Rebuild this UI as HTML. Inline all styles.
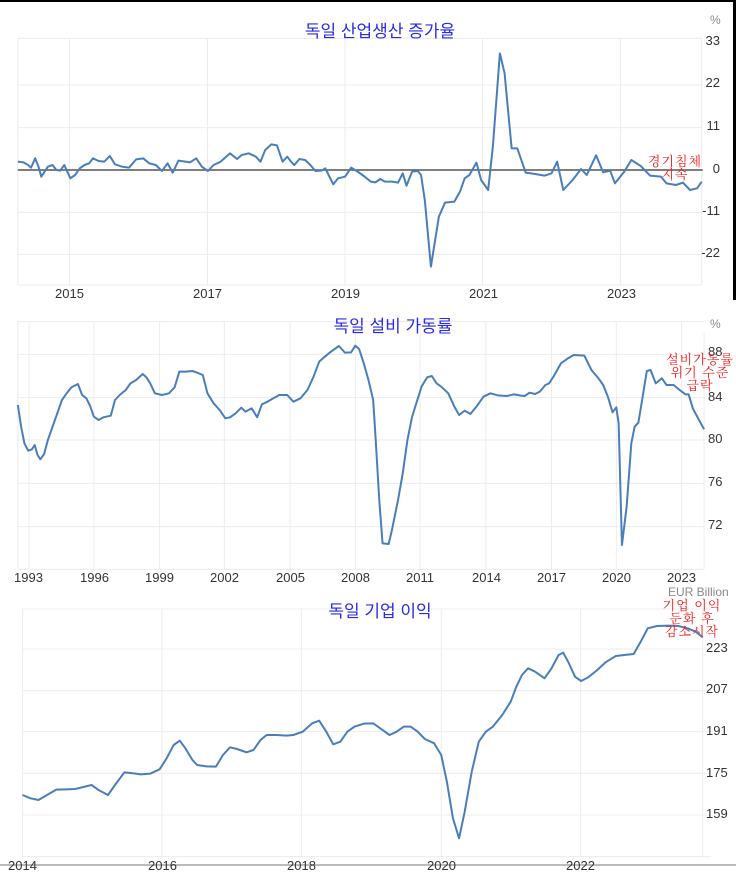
<!DOCTYPE html>
<html><head><meta charset="utf-8"><style>
body{margin:0;width:736px;height:874px;background:#fff;position:relative;overflow:hidden;font-family:"Liberation Sans",sans-serif}
svg{position:absolute;left:0}
.t{position:absolute;font-size:13px;color:#333;white-space:nowrap}
.r{text-align:right}
.ttl{position:absolute;font-family:"Liberation Sans","Noto Sans CJK KR",sans-serif;color:#2a2ae6;font-size:17px;white-space:nowrap;transform:translateX(-50%)}
.ann{position:absolute;font-family:"Liberation Sans","Noto Serif CJK SC","Noto Sans CJK KR",serif;color:#f02020;font-size:13px;letter-spacing:1px;line-height:13px;text-align:center;white-space:nowrap;transform:translateX(-50%)}
.g line{stroke:#ececec;stroke-width:1;vector-effect:non-scaling-stroke}
.d{fill:none;stroke:#4a7ebb;stroke-width:2;vector-effect:non-scaling-stroke;stroke-linejoin:round}
</style></head><body>
<div style="position:absolute;left:0;top:0;width:736px;height:2px;background:#000"></div>
<div style="position:absolute;left:733px;top:0;width:3px;height:300px;background:#000"></div>

<!-- Panel 1 -->
<svg style="top:0" width="736" height="300" viewBox="0 0 1568 900" preserveAspectRatio="none">
<g class="g">
<line x1="38" y1="115" x2="1495" y2="115"/><line x1="38" y1="255" x2="1495" y2="255"/><line x1="38" y1="383" x2="1495" y2="383"/><line x1="38" y1="637" x2="1495" y2="637"/><line x1="38" y1="763" x2="1495" y2="763"/><line x1="38" y1="855" x2="1495" y2="855"/>
<line x1="38" y1="115" x2="38" y2="855"/><line x1="148" y1="115" x2="148" y2="855"/><line x1="442" y1="115" x2="442" y2="855"/><line x1="735" y1="115" x2="735" y2="855"/><line x1="1028" y1="115" x2="1028" y2="855"/><line x1="1322" y1="115" x2="1322" y2="855"/><line x1="1495" y1="115" x2="1495" y2="855"/>
</g>
<line x1="38" y1="510" x2="1497" y2="510" stroke="#555" stroke-width="1.5" vector-effect="non-scaling-stroke"/>
<polyline class="d" points="38,485 50,487 60,495 66,503 75,475 82,500 88,530 95,515 102,500 112,495 120,510 128,512 137,495 145,520 150,535 160,525 170,505 180,495 190,490 198,475 210,483 222,485 234,468 245,493 260,500 275,503 290,478 305,475 318,490 332,495 345,513 357,490 368,518 380,482 395,485 405,487 418,475 430,500 443,513 455,495 470,485 490,460 505,477 515,465 530,460 545,470 555,485 565,450 578,433 590,436 602,485 612,470 620,485 627,495 638,477 650,480 660,493 672,513 685,512 693,505 700,525 710,553 720,535 735,530 748,503 760,513 775,528 790,545 800,547 810,537 820,545 835,545 848,548 858,520 866,557 878,515 890,513 897,525 905,600 918,800 935,650 948,608 968,605 980,575 990,535 1000,525 1015,488 1025,540 1040,570 1050,440 1065,160 1075,220 1090,445 1102,445 1120,518 1140,522 1160,527 1175,520 1187,485 1200,570 1220,540 1238,507 1250,525 1270,466 1285,517 1300,512 1310,550 1330,515 1345,480 1365,498 1385,527 1408,530 1420,550 1440,555 1455,548 1470,570 1485,565 1495,545"/>
</svg>
<div class="ttl" style="left:380px;top:17px">독일 산업생산 증가율</div>
<div class="t" style="left:710px;top:13px;color:#888;font-size:12px">%</div>
<div class="t r" style="left:690px;width:30px;top:33px">33</div>
<div class="t r" style="left:690px;width:30px;top:75px">22</div>
<div class="t r" style="left:690px;width:30px;top:118px">11</div>
<div class="t r" style="left:690px;width:30px;top:161px">0</div>
<div class="t r" style="left:690px;width:30px;top:203px">-11</div>
<div class="t r" style="left:690px;width:30px;top:245px">-22</div>
<div class="t" style="left:55px;top:286px">2015</div>
<div class="t" style="left:193px;top:286px">2017</div>
<div class="t" style="left:331px;top:286px">2019</div>
<div class="t" style="left:469px;top:286px">2021</div>
<div class="t" style="left:607px;top:286px">2023</div>
<div class="ann" style="left:675px;top:155px">경기침체<br>지속</div>

<!-- Panel 2 -->
<svg style="top:300px" width="736" height="290" viewBox="0 0 1568 870" preserveAspectRatio="none">
<g class="g">
<line x1="38" y1="65" x2="1500" y2="65"/><line x1="38" y1="163" x2="1500" y2="163"/><line x1="38" y1="293" x2="1500" y2="293"/><line x1="38" y1="420" x2="1500" y2="420"/><line x1="38" y1="550" x2="1500" y2="550"/><line x1="38" y1="680" x2="1500" y2="680"/><line x1="38" y1="808" x2="1500" y2="808"/>
<line x1="38" y1="65" x2="38" y2="808"/><line x1="62" y1="65" x2="62" y2="808"/><line x1="200" y1="65" x2="200" y2="808"/><line x1="340" y1="65" x2="340" y2="808"/><line x1="478" y1="65" x2="478" y2="808"/><line x1="618" y1="65" x2="618" y2="808"/><line x1="757" y1="65" x2="757" y2="808"/><line x1="895" y1="65" x2="895" y2="808"/><line x1="1035" y1="65" x2="1035" y2="808"/><line x1="1175" y1="65" x2="1175" y2="808"/><line x1="1313" y1="65" x2="1313" y2="808"/><line x1="1452" y1="65" x2="1452" y2="808"/><line x1="1500" y1="100" x2="1500" y2="808"/>
</g>
<polyline class="d" points="38,315 45,380 52,430 60,452 68,448 74,435 80,465 86,478 94,462 102,420 112,380 122,340 132,300 142,280 152,262 166,252 175,285 184,295 192,318 200,350 210,360 220,352 236,347 245,300 255,285 268,270 278,250 290,240 304,222 312,232 320,250 330,280 345,285 360,280 372,262 382,215 395,215 410,213 420,218 432,225 442,280 455,310 468,330 480,355 490,352 502,340 514,323 523,335 536,325 548,352 558,313 570,305 582,295 595,285 612,285 625,305 640,295 655,270 668,230 680,185 692,170 705,155 722,138 735,158 748,157 757,137 765,147 775,190 785,240 795,300 800,410 808,600 815,730 828,732 835,690 848,600 858,520 868,420 878,350 888,305 898,260 910,232 920,228 930,250 940,260 955,280 968,320 978,345 990,332 1002,342 1015,320 1030,290 1045,280 1060,286 1080,288 1095,283 1110,287 1118,288 1128,278 1140,282 1150,275 1162,255 1170,250 1180,228 1195,190 1210,175 1222,165 1245,167 1260,210 1275,235 1285,255 1295,290 1305,337 1313,322 1318,370 1325,735 1335,620 1345,430 1352,380 1360,368 1368,300 1378,213 1386,210 1397,250 1410,235 1420,255 1435,255 1448,270 1460,283 1467,283 1476,325 1488,357 1500,388"/>
</svg>
<div class="ttl" style="left:393px;top:312px">독일 설비 가동률</div>
<div class="t" style="left:710px;top:317px;color:#888;font-size:12px">%</div>
<div class="t" style="left:708px;top:344px">88</div>
<div class="t" style="left:708px;top:389px">84</div>
<div class="t" style="left:708px;top:431px">80</div>
<div class="t" style="left:708px;top:474px">76</div>
<div class="t" style="left:708px;top:517px">72</div>
<div class="t" style="left:14px;top:570px">1993</div>
<div class="t" style="left:80px;top:570px">1996</div>
<div class="t" style="left:145px;top:570px">1999</div>
<div class="t" style="left:210px;top:570px">2002</div>
<div class="t" style="left:276px;top:570px">2005</div>
<div class="t" style="left:341px;top:570px">2008</div>
<div class="t" style="left:406px;top:570px">2011</div>
<div class="t" style="left:472px;top:570px">2014</div>
<div class="t" style="left:537px;top:570px">2017</div>
<div class="t" style="left:602px;top:570px">2020</div>
<div class="t" style="left:667px;top:570px">2023</div>
<div class="ann" style="left:700px;top:353px">설비가동률<br>위기 수준<br>급락</div>

<!-- Panel 3 -->
<svg style="top:585px" width="736" height="289" viewBox="0 0 1568 867" preserveAspectRatio="none">
<g class="g">
<line x1="48" y1="72" x2="1515" y2="72"/><line x1="48" y1="192" x2="1515" y2="192"/><line x1="48" y1="317" x2="1515" y2="317"/><line x1="48" y1="440" x2="1515" y2="440"/><line x1="48" y1="565" x2="1515" y2="565"/><line x1="48" y1="690" x2="1515" y2="690"/><line x1="48" y1="815" x2="1515" y2="815"/>
<line x1="48" y1="72" x2="48" y2="815"/><line x1="345" y1="72" x2="345" y2="815"/><line x1="642" y1="72" x2="642" y2="815"/><line x1="940" y1="72" x2="940" y2="815"/><line x1="1237" y1="72" x2="1237" y2="815"/><line x1="1497" y1="72" x2="1497" y2="815"/>
</g>
<polyline class="d" points="48,630 65,640 82,645 100,630 120,614 140,613 160,612 178,606 195,600 210,615 230,630 245,600 265,562 285,565 300,568 320,566 340,553 355,520 370,480 383,467 395,490 410,525 420,540 440,544 460,545 475,510 490,487 505,492 525,502 540,495 555,465 568,450 590,450 610,452 625,450 645,440 665,415 680,407 695,440 710,478 725,470 740,440 755,425 775,416 795,415 810,430 830,450 845,440 860,425 875,425 890,440 905,462 925,475 940,510 952,590 965,700 978,760 990,680 1005,560 1020,470 1035,440 1050,425 1070,390 1088,350 1100,305 1112,270 1125,250 1140,260 1160,280 1175,250 1190,210 1200,203 1212,235 1225,275 1238,288 1252,278 1270,258 1290,232 1312,213 1330,210 1350,207 1365,170 1380,130 1400,123 1425,122 1445,123 1465,130 1482,140 1497,157"/>
</svg>
<div style="position:absolute;left:0;top:864px;width:736px;height:2px;background:#bbb"></div>
<div class="ttl" style="left:380px;top:597px">독일 기업 이익</div>
<div class="t" style="left:668px;top:585px;color:#888;font-size:12px">EUR Billion</div>
<div class="t" style="left:706px;top:640px">223</div>
<div class="t" style="left:706px;top:681px">207</div>
<div class="t" style="left:706px;top:723px">191</div>
<div class="t" style="left:706px;top:765px">175</div>
<div class="t" style="left:706px;top:806px">159</div>
<div class="t" style="left:8px;top:858px">2014</div>
<div class="t" style="left:148px;top:858px">2016</div>
<div class="t" style="left:287px;top:858px">2018</div>
<div class="t" style="left:427px;top:858px">2020</div>
<div class="t" style="left:566px;top:858px">2022</div>
<div class="ann" style="left:692px;top:599px">기업 이익<br>둔화 후<br>감소시작</div>
</body></html>
